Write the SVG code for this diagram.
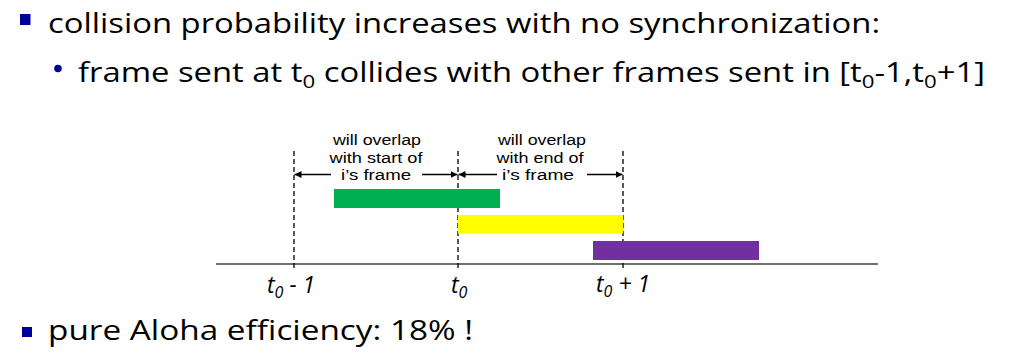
<svg xmlns="http://www.w3.org/2000/svg" width="1022" height="361" viewBox="0 0 1022 361">
<defs>
<style>
.main{font-family:"Open Sans","Noto Sans","Liberation Sans",sans-serif;font-size:28px;fill:#000}
.lbl{font-family:"Liberation Sans",Arial,sans-serif;font-size:15.5px;fill:#000;text-anchor:middle}
.ax{font-family:"Open Sans","Noto Sans","Liberation Sans",sans-serif;font-size:23px;font-style:italic;fill:#000}
.dash{stroke:#000;stroke-width:1.3;stroke-dasharray:5,3;fill:none}
.arr{stroke:#000;stroke-width:1.3;fill:none;marker-end:url(#ah)}
</style>
<marker id="ah" viewBox="0 0 10 10" refX="10" refY="5" markerWidth="7" markerHeight="7" markerUnits="userSpaceOnUse" orient="auto">
<path d="M0,0 L10,5 L0,10 z" fill="#000"/>
</marker>
</defs>
<g id="text-top">
<rect x="20" y="14" width="10.5" height="11" fill="#000099"/>
<text class="main" x="48" y="33" textLength="832" lengthAdjust="spacingAndGlyphs">collision probability increases with no synchronization:</text>
<circle cx="58" cy="68.5" r="3.8" fill="#000099"/>
<text class="main" x="78" y="82" textLength="907" lengthAdjust="spacingAndGlyphs">frame sent at t<tspan font-size="19" dy="6">0</tspan><tspan dy="-6"> collides with other frames sent in [t</tspan><tspan font-size="19" dy="6">0</tspan><tspan dy="-6">-1,t</tspan><tspan font-size="19" dy="6">0</tspan><tspan dy="-6">+1]</tspan></text>
</g>
<g id="axis">
<line x1="216" y1="264" x2="878" y2="264" stroke="#404040" stroke-width="1.6"/>
</g>
<g id="guides">
<line class="dash" x1="294" y1="151" x2="294" y2="268"/>
<line class="dash" x1="458" y1="151" x2="458" y2="268"/>
<line class="dash" x1="623" y1="151" x2="623" y2="268"/>
</g>
<g id="frame-green"><rect x="334" y="189" width="166" height="19" fill="#00B050"/></g>
<g id="frame-yellow"><rect x="458" y="215" width="165" height="18.5" fill="#FFFF00"/></g>
<g id="frame-purple"><rect x="593" y="241" width="166" height="19" fill="#7030A0"/></g>
<g id="connectors">
<line class="arr" x1="331" y1="174.5" x2="294.5" y2="174.5"/>
<line class="arr" x1="422" y1="174.5" x2="457.5" y2="174.5"/>
<line class="arr" x1="497" y1="174.5" x2="458.5" y2="174.5"/>
<line class="arr" x1="587" y1="174.5" x2="622.5" y2="174.5"/>
</g>
<g id="label-start">
<text class="lbl" x="377" y="145" textLength="88" lengthAdjust="spacingAndGlyphs">will overlap</text>
<text class="lbl" x="376" y="162.5" textLength="93" lengthAdjust="spacingAndGlyphs">with start of</text>
<text class="lbl" x="376" y="180" textLength="70" lengthAdjust="spacingAndGlyphs">i’s frame</text>
</g>
<g id="label-end">
<text class="lbl" x="542" y="145" textLength="88" lengthAdjust="spacingAndGlyphs">will overlap</text>
<text class="lbl" x="540" y="162.5" textLength="87" lengthAdjust="spacingAndGlyphs">with end of</text>
<text class="lbl" x="538" y="180" textLength="72" lengthAdjust="spacingAndGlyphs">i’s frame</text>
</g>
<g id="axis-labels">
<text class="ax" x="267" y="293">t<tspan font-size="16" dy="5">0</tspan><tspan dy="-5"> - 1</tspan></text>
<text class="ax" x="451" y="293">t<tspan font-size="16" dy="5">0</tspan></text>
<text class="ax" x="596" y="292">t<tspan font-size="16" dy="5">0</tspan><tspan dy="-5"> + 1</tspan></text>
</g>
<g id="text-bottom">
<rect x="22" y="327" width="10" height="10" fill="#000099"/>
<text class="main" x="48" y="340" textLength="425" lengthAdjust="spacingAndGlyphs">pure Aloha efficiency: 18% !</text>
</g>
</svg>
